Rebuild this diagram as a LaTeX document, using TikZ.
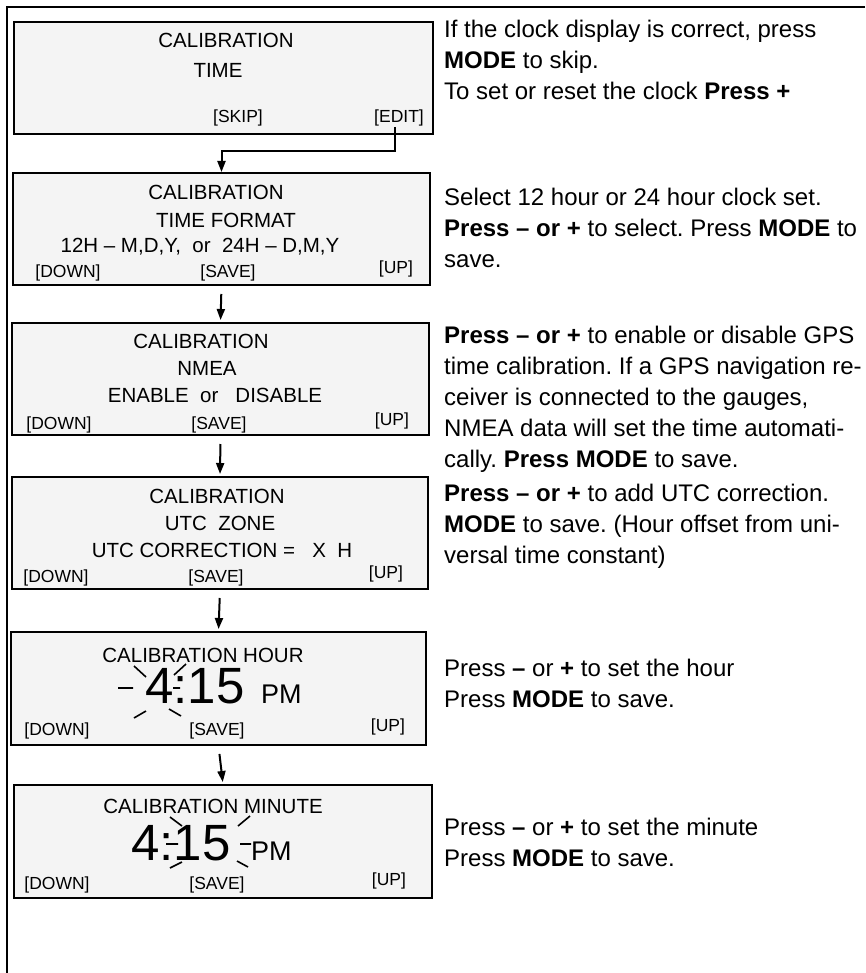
\documentclass[tikz,border=0pt]{standalone}
\usepackage{fontspec}
\setmainfont{Liberation Sans}
\usetikzlibrary{arrows.meta}
\definecolor{lcdgray}{HTML}{F4F4F4}
\tikzset{
    lcd/.style={draw, line width=2pt, fill=lcdgray, inner sep=0pt},
    lcdline/.style={anchor=base, inner sep=0pt, font=\fontsize{20.5}{24}\selectfont},
    lcdkey/.style={anchor=base, inner sep=0pt, font=\fontsize{17.5}{20}\selectfont},
    lcddigits/.style={anchor=base west, inner sep=0pt, font=\fontsize{51}{60}\selectfont},
    lcdampm/.style={anchor=base west, inner sep=0pt, font=\fontsize{27}{30}\selectfont},
    note/.style={anchor=north west, inner sep=0pt, align=left,
                 font=\fontsize{24}{31}\selectfont\frenchspacing},
    flow/.style={-{Triangle[length=11pt,width=8pt]}, line width=2pt},
    blink/.style={line width=1.6pt},
    frame/.style={line width=2.5pt},
}
\newcommand{\keyrow}[4]{
    \node[lcdkey] (#1down) at (#2,#3) {[DOWN]};
    \node[lcdkey] (#1save) at (#2+160,#3) {[SAVE]};
    \node[lcdkey] (#1up) at (#4,#3-4) {[UP]};
}

\begin{document}
\begin{tikzpicture}[x=1pt, y=-1pt]
    \useasboundingbox (0,0) rectangle (865,973);
    \draw[frame] (865,7) -| (7,973);

    \node[lcd, minimum width=419pt, minimum height=112pt] (time) at (223.5,78) {};
    \node[lcdline] (timet1) at (226,48) {CALIBRATION};
    \node[lcdline] (timet2) at (218,78) {TIME};
    \node[lcdkey] (skip) at (238,123) {[SKIP]};
    \node[lcdkey] (edit) at (399,123) {[EDIT]};

    \node[lcd, minimum width=417pt, minimum height=112pt] (fmt) at (221.5,229) {};
    \node[lcdline] (fmtt1) at (216,200) {CALIBRATION};
    \node[lcdline] (fmtt2) at (226,228) {TIME FORMAT};
    \node[lcdline] (fmtt3) at (200,253) {12H -- M,D,Y,\ \ or\ \ 24H -- D,M,Y};
    \keyrow{fmt}{68}{277}{396}

    \node[lcd, minimum width=417pt, minimum height=112pt] (nmea) at (220.5,379) {};
    \node[lcdline] (nmeat1) at (201,348) {CALIBRATION};
    \node[lcdline] (nmeat2) at (207,375) {NMEA};
    \node[lcdline] (nmeat3) at (215,402) {ENABLE\ \ or\ \ \ DISABLE};
    \keyrow{nmea}{59}{429}{392}

    \node[lcd, minimum width=416pt, minimum height=112pt] (utc) at (220,533) {};
    \node[lcdline] (utct1) at (217,503) {CALIBRATION};
    \node[lcdline] (utct2) at (220,530) {UTC\ \ ZONE};
    \node[lcdline] (utct3) at (222,557) {UTC CORRECTION =\ \ \ X\ \ H};
    \keyrow{utc}{56}{582}{386}

    \node[lcd, minimum width=415pt, minimum height=113pt] (hour) at (218.5,688.5) {};
    \node[lcdline] (hourt1) at (203,662) {CALIBRATION HOUR};
    \node[lcddigits] (hourclk) at (145,703) {4:15};
    \node[lcdampm] (hourpm) at (261,703) {PM};
    \keyrow{hour}{57}{735}{388}
    \draw[blink] (118,688) -- (133,688) (173,688) -- (180,688)
        (134,666) -- (146,677) (174,675) -- (186,664)
        (134,718) -- (146,711) (169,709) -- (181,716);

    \node[lcd, minimum width=418pt, minimum height=113pt] (minute) at (223,841.5) {};
    \node[lcdline] (minutet1) at (213,813) {CALIBRATION MINUTE};
    \node[lcddigits] (minuteclk) at (131,860) {4:15};
    \node[lcdampm] (minutepm) at (251,860) {PM};
    \keyrow{minute}{57}{889}{389}
    \draw[blink] (166,844) -- (178,844) (240,844) -- (251,844)
        (170,817) -- (182,826) (238,826) -- (250,816)
        (170,868) -- (182,862) (237,861) -- (248,867);

    \draw[flow] ([xshift=-4pt]edit.south) -- ++(0,24) -| (fmt.north);
    \draw[flow, shorten <=8pt, shorten >=2pt] (fmt.south) -- (nmea.north);
    \draw[flow, shorten <=8pt, shorten >=2pt] (nmea.south) -- (utc.north);
    \draw[flow, shorten <=8pt, shorten >=2pt] (utc.south) -- (hour.north);
    \draw[flow, shorten <=8pt, shorten >=2pt] (hour.south) -- (minute.north);

    \node[note] (timenote) at (444,16) {\strut If the clock display is correct, press\\
        \textbf{MODE} to skip.\\To set or reset the clock \textbf{Press +}};
    \node[note] (fmtnote) at (444,184) {\strut Select 12 hour or 24 hour clock set.\\
        \textbf{Press -- or +} to select. Press \textbf{MODE} to\\save.};
    \node[note] (nmeanote) at (444,322) {\strut\textbf{Press -- or +} to enable or disable GPS\\
        time calibration. If a GPS navigation re-\\ceiver is connected to the gauges,\\
        NMEA data will set the time automati-\\cally. \textbf{Press MODE} to save.};
    \node[note] (utcnote) at (444,480) {\strut\textbf{Press -- or +} to add UTC correction.\\
        \textbf{MODE} to save. (Hour offset from uni-\\versal time constant)};
    \node[note] (hournote) at (444,655) {\strut Press \textbf{--} or \textbf{+} to set the hour\\
        Press \textbf{MODE} to save.};
    \node[note] (minutenote) at (444,814) {\strut Press \textbf{--} or \textbf{+} to set the minute\\
        Press \textbf{MODE} to save.};
\end{tikzpicture}
\end{document}
